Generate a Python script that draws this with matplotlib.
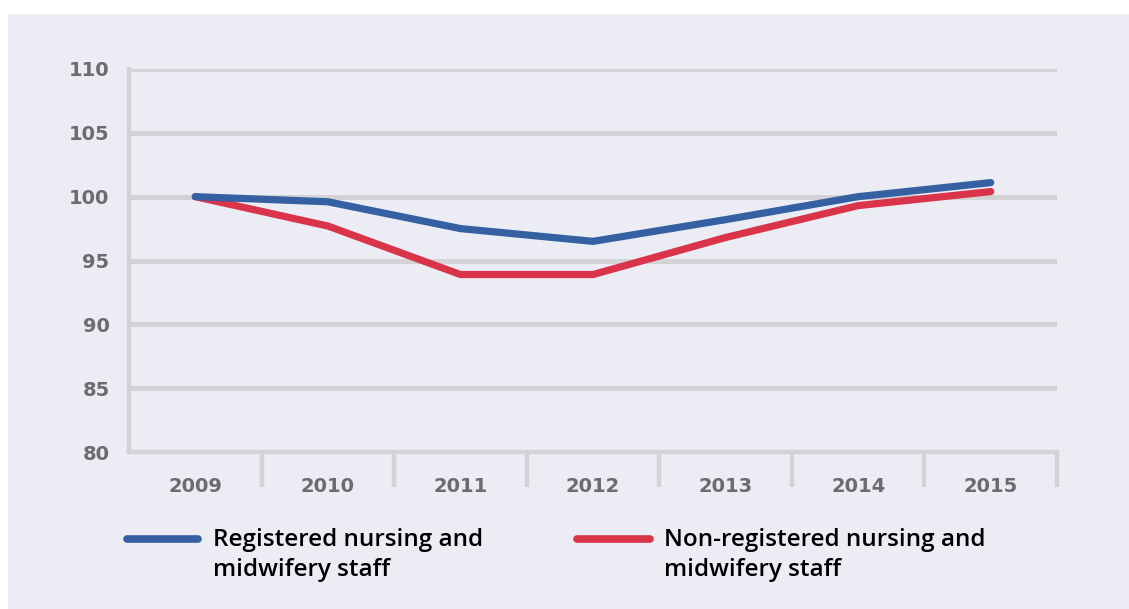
import matplotlib.pyplot as plt
from matplotlib.lines import Line2D
from matplotlib.patches import Rectangle

# data
years = ["2009", "2010", "2011", "2012", "2013", "2014", "2015"]
registered = [100.0, 99.6, 97.5, 96.5, 98.2, 100.0, 101.1]
non_registered = [100.0, 97.7, 93.9, 93.9, 96.8, 99.3, 100.4]
y_ticks = [80, 85, 90, 95, 100, 105, 110]
legend_labels = ["Registered nursing and\nmidwifery staff",
                 "Non-registered nursing and\nmidwifery staff"]

BG = "#ECECF5"
GRID = "#D3D3D6"
BLUE = "#3560A1"
RED = "#D9344A"
TICK_TEXT = "#6B6B70"

W, H = 1129, 609
fig = plt.figure(figsize=(W / 100, H / 100), dpi=100)
fig.patch.set_facecolor("white")
fig.add_artist(Rectangle((8 / W, 0), 1 - 8 / W, 1 - 14 / H,
                         transform=fig.transFigure, facecolor=BG,
                         edgecolor="none", zorder=0))

left, right, top, bottom = 129, 1057, 69, 452
ax = fig.add_axes([left / W, 1 - bottom / H, (right - left) / W,
                   (bottom - top) / H])
ax.set_facecolor(BG)

x = list(range(len(years)))
ax.plot(x, registered, color=BLUE, lw=5.2, solid_capstyle="round",
        solid_joinstyle="round", zorder=4)
ax.plot(x, non_registered, color=RED, lw=5.2, solid_capstyle="round",
        solid_joinstyle="round", zorder=3)

ax.set_xlim(-0.5, len(years) - 0.5)
ax.set_ylim(80, 110)
ax.set_yticks(y_ticks)
ax.set_yticklabels([str(v) for v in y_ticks])
ax.set_xticks(x)
ax.set_xticklabels(years)
ax.set_xticks([i + 0.5 for i in x], minor=True)

ax.grid(axis="y", color=GRID, lw=3.6, zorder=1)
ax.set_axisbelow(True)
for side in ["top", "right"]:
    ax.spines[side].set_visible(False)
for side in ["left", "bottom"]:
    ax.spines[side].set_color(GRID)
    ax.spines[side].set_linewidth(3.2)

ax.tick_params(axis="y", length=0, pad=14, labelsize=14, labelcolor=TICK_TEXT)
ax.tick_params(axis="x", which="major", length=0, pad=18, labelsize=14,
               labelcolor=TICK_TEXT)
ax.tick_params(axis="x", which="minor", length=25, width=3.2, color=GRID,
               direction="out")
for lbl in ax.get_xticklabels() + ax.get_yticklabels():
    lbl.set_fontfamily("DejaVu Sans")
    lbl.set_fontweight("bold")

# legend drawn by hand to match the layout
key_y = 1 - 539 / H
for (x0, x1, tx), col, label in zip([(127, 198, 213), (577, 650, 664)],
                                    [BLUE, RED], legend_labels):
    fig.add_artist(Line2D([x0 / W, x1 / W], [key_y, key_y],
                          transform=fig.transFigure, color=col, lw=5.5,
                          solid_capstyle="round"))
    fig.text(tx / W, 1 - 528 / H, label, ha="left", va="top", fontsize=17.5,
             fontfamily="Open Sans", fontweight="semibold", color="black",
             linespacing=1.35)

fig.savefig("out.png", dpi=100, facecolor=fig.get_facecolor())
